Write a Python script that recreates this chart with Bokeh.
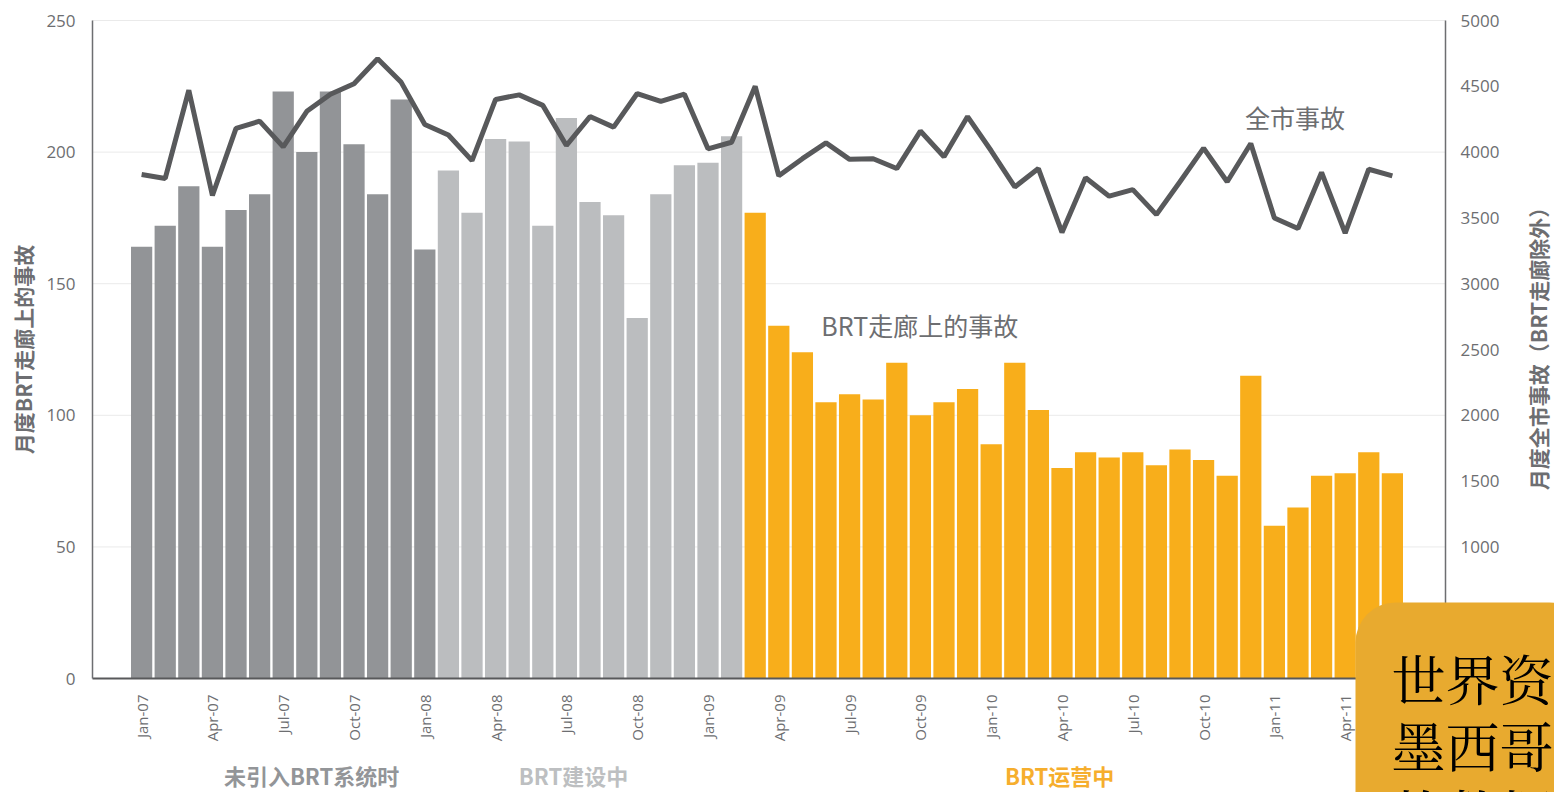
import math
from bokeh.plotting import figure
from bokeh.models import (Range1d, LinearAxis, FixedTicker, Label, ColumnDataSource)
from bokeh.embed import file_html
from bokeh.resources import INLINE

# ---------------- data ----------------
months = [
    "Jan-07", "Feb-07", "Mar-07", "Apr-07", "May-07", "Jun-07", "Jul-07", "Aug-07", "Sep-07", "Oct-07", "Nov-07", "Dec-07",
    "Jan-08", "Feb-08", "Mar-08", "Apr-08", "May-08", "Jun-08", "Jul-08", "Aug-08", "Sep-08", "Oct-08", "Nov-08", "Dec-08",
    "Jan-09", "Feb-09", "Mar-09", "Apr-09", "May-09", "Jun-09", "Jul-09", "Aug-09", "Sep-09", "Oct-09", "Nov-09", "Dec-09",
    "Jan-10", "Feb-10", "Mar-10", "Apr-10", "May-10", "Jun-10", "Jul-10", "Aug-10", "Sep-10", "Oct-10", "Nov-10", "Dec-10",
    "Jan-11", "Feb-11", "Mar-11", "Apr-11", "May-11", "Jun-11",
]

# monthly accidents on BRT corridor (left axis)
brt_accidents = [
    164, 172, 187, 164, 178, 184, 223, 200, 223, 203, 184, 220,
    163, 193, 177, 205, 204, 172, 213, 181, 176, 137, 184, 195,
    196, 206, 177, 134, 124, 105, 108, 106, 120, 100, 105, 110,
    89, 120, 102, 80, 86, 84, 86, 81, 87, 83, 77, 115,
    58, 65, 77, 78, 86, 78,
]

# monthly city-wide accidents excluding BRT corridor (right axis)
city_accidents = [
    3830, 3800, 4470, 3670, 4180, 4235, 4040, 4310, 4440, 4520, 4710, 4530,
    4210, 4130, 3935, 4400, 4435, 4355, 4050, 4270, 4190, 4445, 4385, 4440,
    4025, 4075, 4500, 3820, 3950, 4070, 3945, 3950, 3875, 4160, 3965, 4270,
    4010, 3735, 3875, 3390, 3805, 3665, 3715, 3525, 3775, 4030, 3775, 4065,
    3500, 3420, 3845, 3385, 3870, 3820,
]

phases = ["未引入BRT系统时"] * 13 + ["BRT建设中"] * 13 + ["BRT运营中"] * 28
phase_names = ["未引入BRT系统时", "BRT建设中", "BRT运营中"]
phase_colors = {"未引入BRT系统时": "#929497", "BRT建设中": "#BBBDBF", "BRT运营中": "#F8AE1B"}
phase_label_colors = {"未引入BRT系统时": "#939598", "BRT建设中": "#BDBFC1", "BRT运营中": "#F6AE2D"}

tick_months = months[::3]

left_ticks = [0, 50, 100, 150, 200, 250]
right_ticks = [0, 500, 1000, 1500, 2000, 2500, 3000, 3500, 4000, 4500, 5000]

# ---------------- geometry of the plotting area ----------------
# the frame covers the whole canvas so that titles/annotations outside the axes are not clipped;
# the axes are drawn at fixed data locations inside it
X_CANVAS_START, X_AXIS_START, X_AXIS_END, X_CANVAS_END = -5.98, -2.08, 55.25, 59.87
Y_BOTTOM, Y_AXIS_TOP, Y_CANVAS_TOP = -43.3, 250, 257.6
RIGHT_SCALE = 5000 / 250

GRAY = "#6D6E71"
idx = list(range(len(months)))
src = ColumnDataSource(dict(
    x=idx, bar=brt_accidents, line=city_accidents,
    color=[phase_colors[ph] for ph in phases],
))

p = figure(width=1554, height=792, output_backend="svg", toolbar_location=None,
           x_range=Range1d(X_CANVAS_START, X_CANVAS_END), y_range=Range1d(Y_BOTTOM, Y_CANVAS_TOP),
           min_border_left=0, min_border_right=0, min_border_top=0, min_border_bottom=0)
p.outline_line_color = None
p.background_fill_color = "white"
p.border_fill_color = "white"
p.xgrid.visible = False
p.ygrid.visible = False

p.extra_y_ranges = {"right": Range1d(Y_BOTTOM * RIGHT_SCALE, Y_CANVAS_TOP * RIGHT_SCALE)}

# horizontal grid lines, limited to the axis span
grid_vals = left_ticks[1:]
p.segment(x0=[X_AXIS_START] * len(grid_vals), x1=[X_AXIS_END] * len(grid_vals),
          y0=grid_vals, y1=grid_vals, line_color="#EAEAEA", line_width=1)

p.vbar(x="x", top="bar", width=0.9, color="color", source=src, line_color=None)
p.line(x="x", y="line", y_range_name="right", source=src, line_color="#58595B", line_width=5)

# ---- bottom axis (drawn at y = 0) ----
xa = p.xaxis[0]
xa.fixed_location = 0
xa.bounds = (X_AXIS_START, X_AXIS_END)
xa.ticker = FixedTicker(ticks=idx[::3])
xa.major_label_overrides = {i: m for i, m in zip(idx[::3], tick_months)}
xa.major_label_orientation = math.pi / 2
xa.major_label_text_font = "Open Sans"
xa.major_label_text_font_size = "15px"
xa.major_label_text_color = GRAY
xa.major_label_standoff = 16
xa.major_tick_out = 0
xa.major_tick_in = 0
xa.major_tick_line_color = None
xa.minor_tick_line_color = None
xa.axis_line_color = "#58595B"
xa.axis_line_width = 2

# ---- left axis ----
ya = p.yaxis[0]
ya.fixed_location = X_AXIS_START
ya.bounds = (0, Y_AXIS_TOP)
ya.ticker = FixedTicker(ticks=left_ticks)
ya.major_label_text_font = "Open Sans"
ya.major_label_text_font_size = "17px"
ya.major_label_text_color = GRAY
ya.major_label_standoff = 17
ya.major_tick_out = 0
ya.major_tick_in = 0
ya.major_tick_line_color = None
ya.minor_tick_line_color = None
ya.axis_line_color = GRAY
ya.axis_line_width = 1.5

# ---- right axis (drawn at the end of the data span) ----
ra = LinearAxis(y_range_name="right", ticker=FixedTicker(ticks=right_ticks))
ra.fixed_location = X_AXIS_END
ra.bounds = (0, 5000)
ra.major_label_text_font = "Open Sans"
ra.major_label_text_font_size = "17px"
ra.major_label_text_color = GRAY
ra.major_label_standoff = 15
ra.major_tick_out = 0
ra.major_tick_in = 0
ra.major_tick_line_color = None
ra.minor_tick_line_color = None
ra.axis_line_color = GRAY
ra.axis_line_width = 1.5
p.add_layout(ra, "right")

# axis titles (both read bottom to top)
p.add_layout(Label(x=22, y=443, x_units="screen", y_units="screen",
                   text="月度BRT走廊上的事故", angle=math.pi / 2,
                   text_align="center", text_baseline="middle",
                   text_font="Noto Sans CJK SC", text_font_size="21px",
                   text_font_style="bold", text_color=GRAY))
p.add_layout(Label(x=1537, y=449, x_units="screen", y_units="screen",
                   text="月度全市事故（BRT走廊除外）", angle=math.pi / 2,
                   text_align="center", text_baseline="middle",
                   text_font="Noto Sans CJK SC", text_font_size="21px",
                   text_font_style="bold", text_color=GRAY))

# series annotations
p.add_layout(Label(x=46.75, y=213.5, text="全市事故", text_align="left", text_baseline="middle",
                   text_font="Noto Sans CJK SC", text_font_size="25px", text_color=GRAY))
p.add_layout(Label(x=28.8, y=134.2, text="BRT走廊上的事故", text_align="left", text_baseline="middle",
                   text_font="Noto Sans CJK SC", text_font_size="25px", text_color=GRAY))

# phase labels under the axis
phase_x = {"未引入BRT系统时": 7.2, "BRT建设中": 18.3, "BRT运营中": 38.9}
for name in phase_names:
    p.add_layout(Label(x=phase_x[name], y=-36.5, text=name,
                       text_align="center", text_baseline="middle",
                       text_font="Noto Sans CJK SC", text_font_size="22px",
                       text_font_style="bold", text_color=phase_label_colors[name]))

# overlaid caption box (cut off at the window edge, as in the source); anchor is the box corner
p.add_layout(Label(x=1355, y=190, x_units="screen", y_units="screen",
                   text="世界资\n墨西哥\n故数据", text_align="left", text_baseline="top",
                   text_font="Noto Serif CJK SC, Noto Sans CJK SC", text_font_size="54px",
                   text_line_height=0.88,
                   text_color="black", background_fill_color="#E8AA2F",
                   border_radius=40, padding=36))

open("out.html", "w").write(file_html(p, INLINE))
